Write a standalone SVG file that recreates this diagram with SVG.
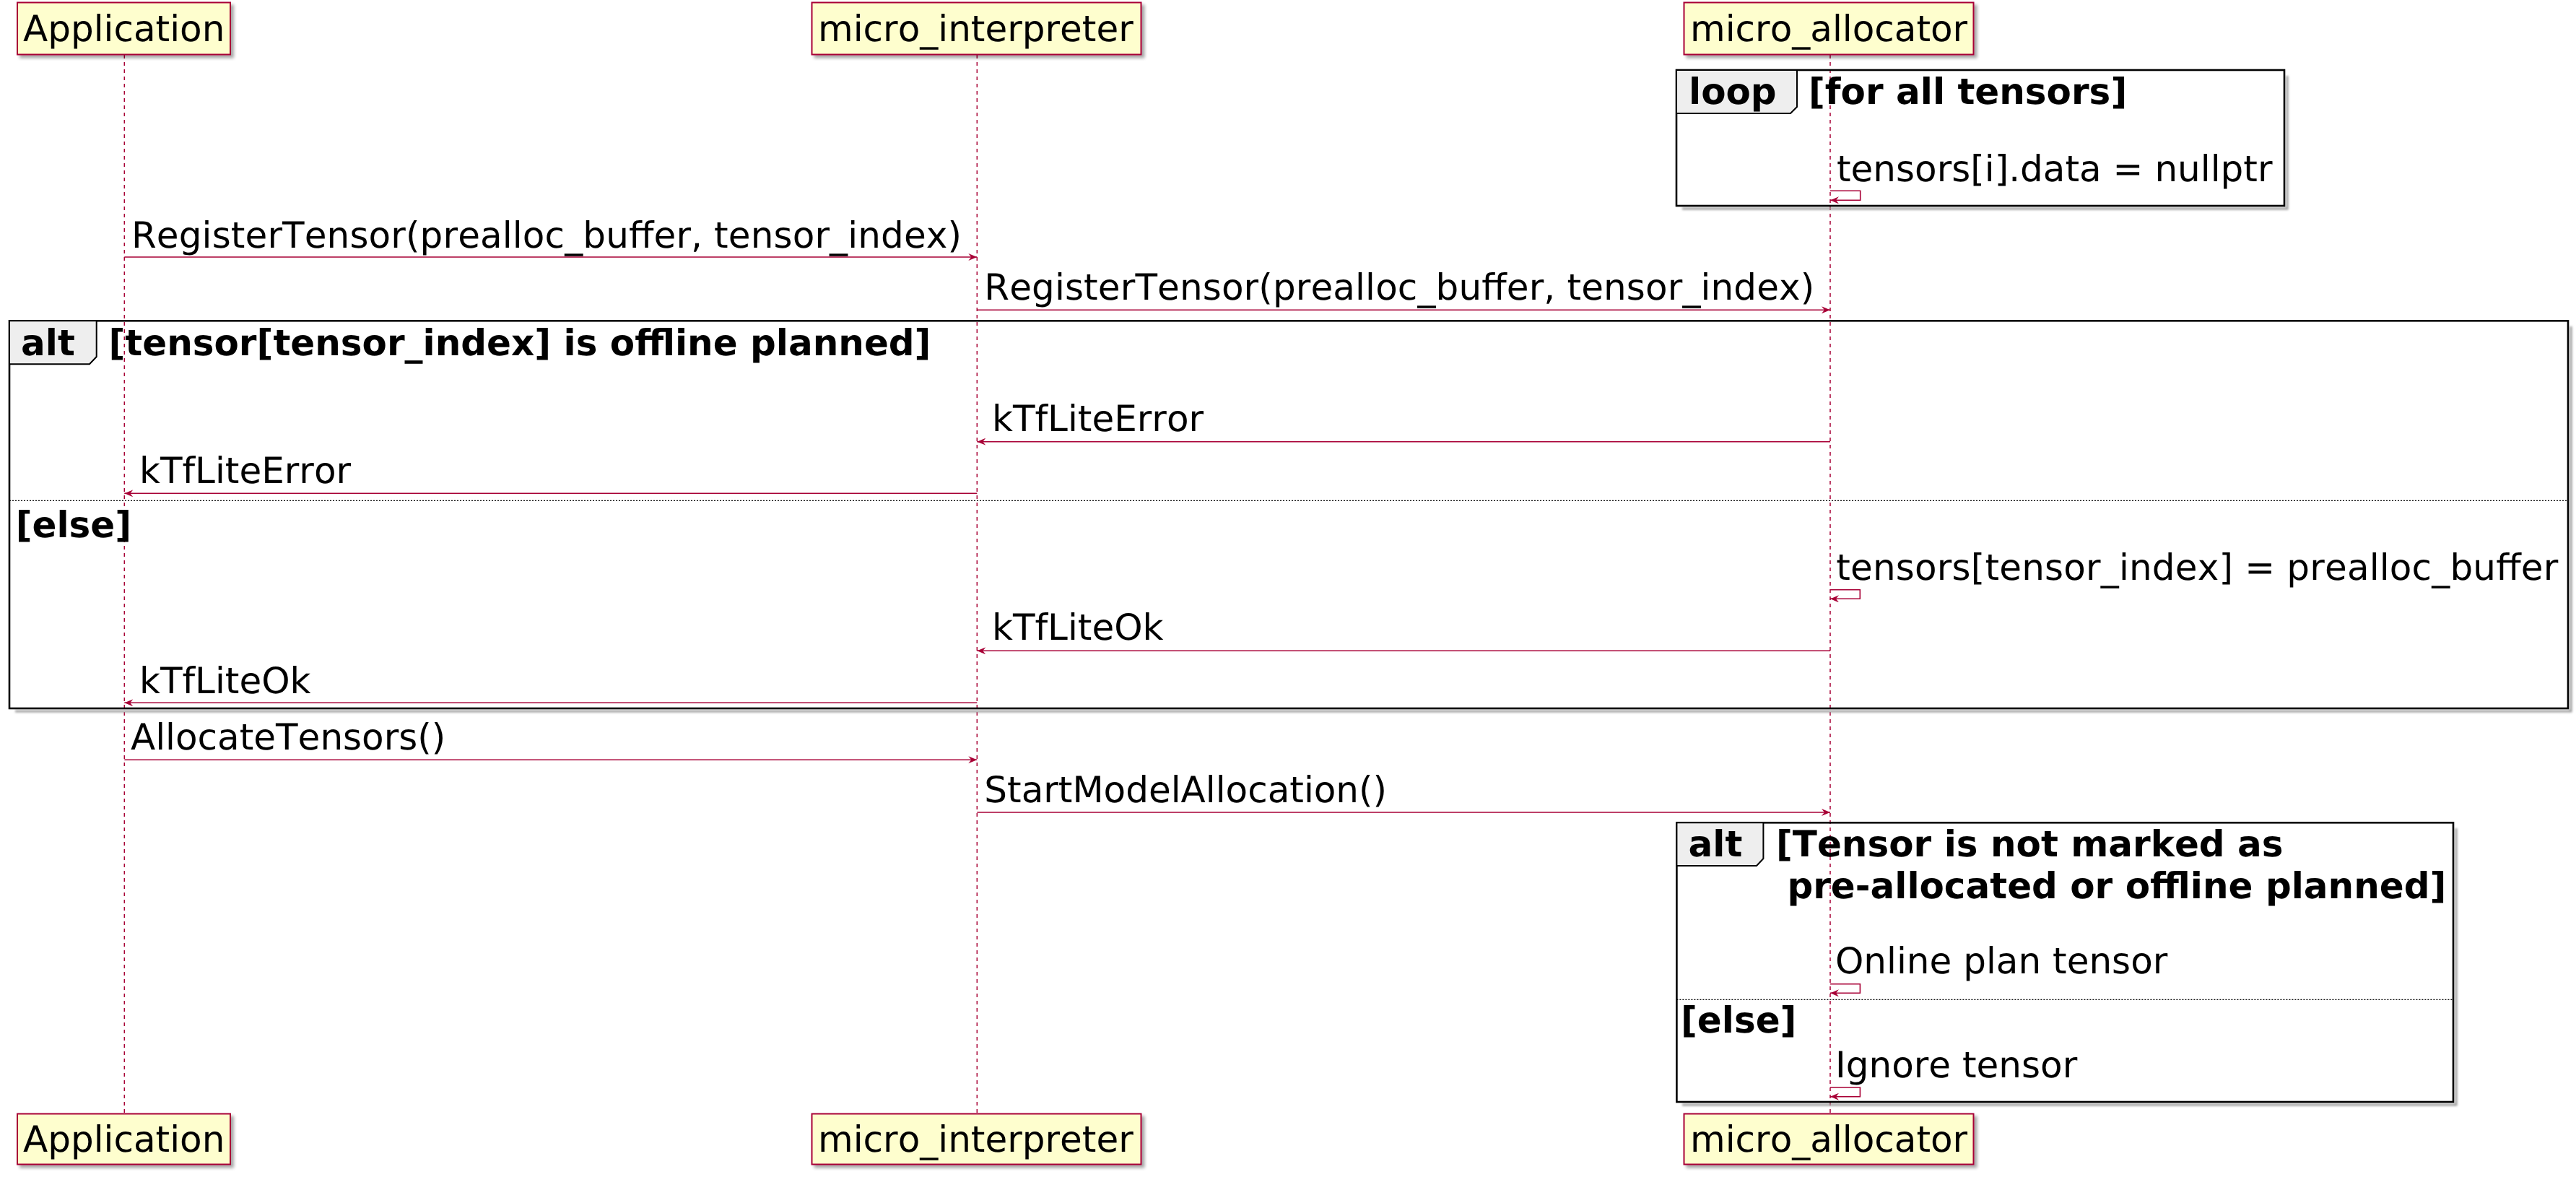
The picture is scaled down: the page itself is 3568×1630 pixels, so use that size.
<svg xmlns="http://www.w3.org/2000/svg" width="3568" height="1630" viewBox="0 0 3568 1630">
<style>
text{font-family:"DejaVu Sans","Liberation Sans",sans-serif;font-size:50px;fill:#000;font-kerning:none;text-rendering:geometricPrecision}
.b{font-weight:bold}
.part{fill:#FEFECE;stroke:#A80036;stroke-width:2}
.life{stroke:#A80036;stroke-width:1.5;stroke-dasharray:5,5;fill:none}
.msg{stroke:#A80036;stroke-width:1.6;fill:none;marker-end:url(#arr)}
.frame{fill:none;stroke:#000;stroke-width:2.6}
.tab{fill:#EEEEEE;stroke:#000;stroke-width:2}
.sep{stroke:#000;stroke-width:1.2;stroke-dasharray:2,2;fill:none}
.shl{stroke:#999;stroke-width:3;fill:none;filter:url(#blur)}
</style>
<defs>
<marker id="arr" markerUnits="userSpaceOnUse" markerWidth="14" markerHeight="12" refX="12" refY="5" orient="auto">
<path d="M0,0 L12,5 L0,10 L4,5 Z" fill="#A80036"/>
</marker>
<filter id="sh" x="-5%" y="-10%" width="115%" height="140%">
<feGaussianBlur in="SourceAlpha" stdDeviation="2"/>
<feOffset dx="4" dy="4"/>
<feComponentTransfer><feFuncA type="linear" slope="0.35"/></feComponentTransfer>
<feMerge><feMergeNode/><feMergeNode in="SourceGraphic"/></feMerge>
</filter>
<filter id="blur" x="-5%" y="-5%" width="110%" height="110%"><feGaussianBlur stdDeviation="1.5"/></filter>
</defs>

<g id="lifelines">
<line class="life" x1="172.3" y1="76" x2="172.3" y2="1542"/>
<line class="life" x1="1353.3" y1="76" x2="1353.3" y2="1542"/>
<line class="life" x1="2535" y1="76" x2="2535" y2="1542"/>
</g>

<g id="participant-application">
<rect class="part" x="24" y="3.5" width="295" height="72" filter="url(#sh)"/>
<text x="32" y="57">Application</text>
<rect class="part" x="24" y="1542.5" width="295" height="70" filter="url(#sh)"/>
<text x="32" y="1595">Application</text>
</g>
<g id="participant-micro_interpreter">
<rect class="part" x="1124.5" y="3.5" width="456" height="72" filter="url(#sh)"/>
<text x="1133" y="57">micro_interpreter</text>
<rect class="part" x="1124.5" y="1542.5" width="456" height="70" filter="url(#sh)"/>
<text x="1133" y="1595">micro_interpreter</text>
</g>
<g id="participant-micro_allocator">
<rect class="part" x="2332.5" y="3.5" width="401" height="72" filter="url(#sh)"/>
<text x="2341" y="57">micro_allocator</text>
<rect class="part" x="2332.5" y="1542.5" width="401" height="70" filter="url(#sh)"/>
<text x="2341" y="1595">micro_allocator</text>
</g>

<g id="frame-loop">
<path class="shl" d="M3168,105 V289 H2330"/>
<rect class="frame" x="2322" y="97" width="842" height="188"/>
<path class="tab" d="M2322,97 H2489 V148 L2480,157 H2322 Z"/>
<text class="b" x="2339" y="144">loop</text>
<text class="b" x="2505" y="144">[for all tensors]</text>
</g>

<g id="frame-alt1">
<path class="shl" d="M3561,452 V985 H21"/>
<rect class="frame" x="13" y="444.3" width="3544" height="536.7"/>
<path class="tab" d="M13,444.3 H133.7 V494 L124,504.3 H13 Z"/>
<text class="b" x="29" y="491.7">alt</text>
<text class="b" x="150.5" y="491.7">[tensor[tensor_index] is offline planned]</text>
<line class="sep" x1="13" y1="693.3" x2="3557" y2="693.3"/>
<text class="b" x="21.7" y="744">[else]</text>
</g>

<g id="frame-alt2">
<path class="shl" d="M3402,1147 V1530 H2330"/>
<rect class="frame" x="2322.4" y="1139.3" width="1075.6" height="386.7"/>
<path class="tab" d="M2322.4,1139.3 H2442.4 V1189 L2433,1199 H2322.4 Z"/>
<text class="b" x="2338.6" y="1186">alt</text>
<text class="b" x="2460" y="1186">[Tensor is not marked as</text>
<text class="b" x="2475.4" y="1244">pre-allocated or offline planned]</text>
<line class="sep" x1="2322.4" y1="1384.3" x2="3398" y2="1384.3"/>
<text class="b" x="2328" y="1430">[else]</text>
</g>

<g id="connectors">
<path class="msg" d="M2535,264.3 H2576.7 V277.3 H2535"/>
<path class="msg" d="M172.3,356 H1353.3"/>
<path class="msg" d="M1353.3,429.3 H2535"/>
<path class="msg" d="M2535,611.7 H1353.3"/>
<path class="msg" d="M1353.3,683.3 H172.3"/>
<path class="msg" d="M2535,816.7 H2576.3 V829.3 H2535"/>
<path class="msg" d="M2535,901.3 H1353.3"/>
<path class="msg" d="M1353.3,973.3 H172.3"/>
<path class="msg" d="M172.3,1052.3 H1353.3"/>
<path class="msg" d="M1353.3,1125 H2535"/>
<path class="msg" d="M2535,1362.7 H2576.4 V1375.3 H2535"/>
<path class="msg" d="M2535,1506 H2576.4 V1518.7 H2535"/>
</g>

<g id="labels">
<text x="2544" y="250.7">tensors[i].data = nullptr</text>
<text x="182" y="343" textLength="1150" lengthAdjust="spacing">RegisterTensor(prealloc_buffer, tensor_index)</text>
<text x="1363.3" y="415" textLength="1150" lengthAdjust="spacing">RegisterTensor(prealloc_buffer, tensor_index)</text>
<text x="1374" y="596.7">kTfLiteError</text>
<text x="193" y="669.3">kTfLiteError</text>
<text x="2543.3" y="803.3" textLength="1000" lengthAdjust="spacing">tensors[tensor_index] = prealloc_buffer</text>
<text x="1374" y="886.3">kTfLiteOk</text>
<text x="193" y="960">kTfLiteOk</text>
<text x="181" y="1038.3">AllocateTensors()</text>
<text x="1363.3" y="1111">StartModelAllocation()</text>
<text x="2542" y="1348.3">Online plan tensor</text>
<text x="2542" y="1491.7">Ignore tensor</text>
</g>
</svg>
